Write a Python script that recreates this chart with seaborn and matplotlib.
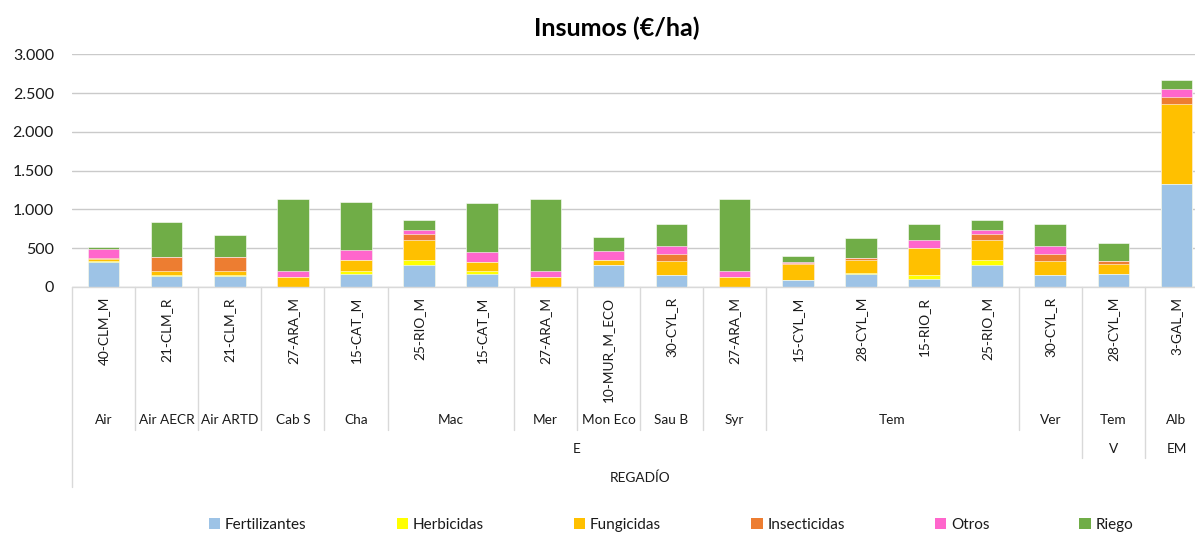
import numpy as np
import pandas as pd
import matplotlib
matplotlib.use("Agg")
import matplotlib.pyplot as plt
import matplotlib.transforms as mtransforms
from matplotlib.patches import Patch
import seaborn as sns

# --- data (€/ha) ---
bar_labels = ['40-CLM_M', '21-CLM_R', '21-CLM_R', '27-ARA_M', '15-CAT_M', '25-RIO_M',
              '15-CAT_M', '27-ARA_M', '10-MUR_M_ECO', '30-CYL_R', '27-ARA_M', '15-CYL_M',
              '28-CYL_M', '15-RIO_R', '25-RIO_M', '30-CYL_R', '28-CYL_M', '3-GAL_M']

level2_names = ['Air', 'Air AECR', 'Air ARTD', 'Cab S', 'Cha', 'Mac', 'Mer', 'Mon Eco',
                'Sau B', 'Syr', 'Tem', 'Ver', 'Tem', 'Alb']
level2_sizes = [1, 1, 1, 1, 1, 2, 1, 1, 1, 1, 4, 1, 1, 1]
level3_names = ['E', 'V', 'EM']
level3_sizes = [16, 1, 1]
level4_names = ['REGADÍO']
level4_sizes = [18]

series_names = ['Fertilizantes', 'Herbicidas', 'Fungicidas', 'Insecticidas', 'Otros', 'Riego']
series_colors = ['#9DC3E6', '#FFFF00', '#FFC000', '#ED7D31', '#FF66CC', '#70AD47']

fertilizantes = [325, 148, 148, 0, 173, 281, 173, 0, 281, 160, 0, 86, 173, 108, 281, 160, 173, 1330]
herbicidas = [10, 8, 8, 0, 34, 69, 34, 0, 5, 0, 0, 0, 5, 47, 69, 0, 0, 0]
fungicidas = [22, 52, 52, 130, 143, 259, 121, 130, 64, 177, 130, 212, 172, 346, 259, 177, 129, 1028]
insecticidas = [15, 185, 185, 0, 0, 73, 0, 0, 0, 82, 0, 5, 22, 0, 73, 82, 35, 94]
otros = [115, 0, 0, 77, 125, 52, 125, 77, 116, 112, 77, 20, 0, 104, 52, 112, 0, 100]
riego = [35, 450, 277, 925, 626, 134, 631, 925, 182, 281, 925, 82, 254, 207, 134, 281, 229, 116]

series_values = [fertilizantes, herbicidas, fungicidas, insecticidas, otros, riego]

# build a frame with cumulative stacks
df = pd.DataFrame({name: vals for name, vals in zip(series_names, series_values)})
df['pos'] = range(len(bar_labels))
cum = df[series_names].cumsum(axis=1)
for name in series_names:
    df['cum_' + name] = cum[name]

sns.set_theme(style="white")
plt.rcParams['font.family'] = ['Lato', 'DejaVu Sans']

W, H = 1195, 533
fig = plt.figure(figsize=(W / 100, H / 100), dpi=100)
ax = fig.add_axes([72 / W, 1 - 287 / H, 1136 / W, (287 - 54.3) / H])

# draw stacks top-down so each layer covers the one above it only up to its own top
for name, col in reversed(list(zip(series_names, series_colors))):
    sns.barplot(data=df, x='pos', y='cum_' + name, color=col, saturation=1,
                width=0.5, errorbar=None, ax=ax, edgecolor='white', linewidth=0.4)

ax.set_xlim(-0.5, len(bar_labels) - 0.5)
ax.set_ylim(0, 3000)
ax.set_yticks(np.arange(0, 3001, 500))
ax.set_yticklabels([f"{int(v):,}".replace(',', '.') for v in np.arange(0, 3001, 500)],
                   fontsize=11.5, color='#1a1a1a')
ax.tick_params(axis='y', length=0, pad=13)
ax.set_xticks([])
ax.set_xlabel('')
ax.set_ylabel('')
for s in ax.spines.values():
    s.set_visible(False)
ax.yaxis.grid(True, color='#CACACA', linewidth=1)
ax.set_axisbelow(True)

# multi-level category axis
tr = mtransforms.blended_transform_factory(ax.transData, fig.transFigure)
fy = lambda py: 1 - py / H
line_kw = dict(color='#D9D9D9', linewidth=1, transform=tr, clip_on=False)

for i, lab in enumerate(bar_labels):
    ax.text(i, fy(297), lab, rotation=90, ha='center', va='top', fontsize=9.8,
            color='#1a1a1a', transform=tr)

def draw_level(names, sizes, y_text, y_line_end):
    start = 0
    for name, n in zip(names, sizes):
        ax.text(start + (n - 1) / 2, fy(y_text), name, ha='center', va='center',
                fontsize=9.8, color='#1a1a1a', transform=tr)
        start += n
    edges = np.cumsum([0] + sizes) - 0.5
    return edges, y_line_end

edge_sets = [draw_level(level2_names, level2_sizes, 420, 430),
             draw_level(level3_names, level3_sizes, 449, 458),
             draw_level(level4_names, level4_sizes, 478, 487)]

drawn = {}
for edges, yend in edge_sets:
    for e in edges:
        drawn[round(e, 2)] = max(drawn.get(round(e, 2), 0), yend)
for e, yend in drawn.items():
    ax.plot([e, e], [fy(287), fy(yend)], **line_kw)
ax.plot([-0.5, len(bar_labels) - 0.5], [fy(287), fy(287)], **line_kw)

fig.text(617 / W, fy(28), 'Insumos (€/ha)', ha='center', va='center',
         fontsize=18, fontweight='bold', color='black')

handles = [Patch(facecolor=c, edgecolor='none') for c in series_colors]
fig.legend(handles, series_names, ncol=6, loc='center', bbox_to_anchor=(671 / W, fy(525)),
           frameon=False, fontsize=11, handlelength=0.75, handleheight=0.75,
           handletextpad=0.3, columnspacing=5.9, labelcolor='#1a1a1a')

fig.savefig('out.png', dpi=100)
